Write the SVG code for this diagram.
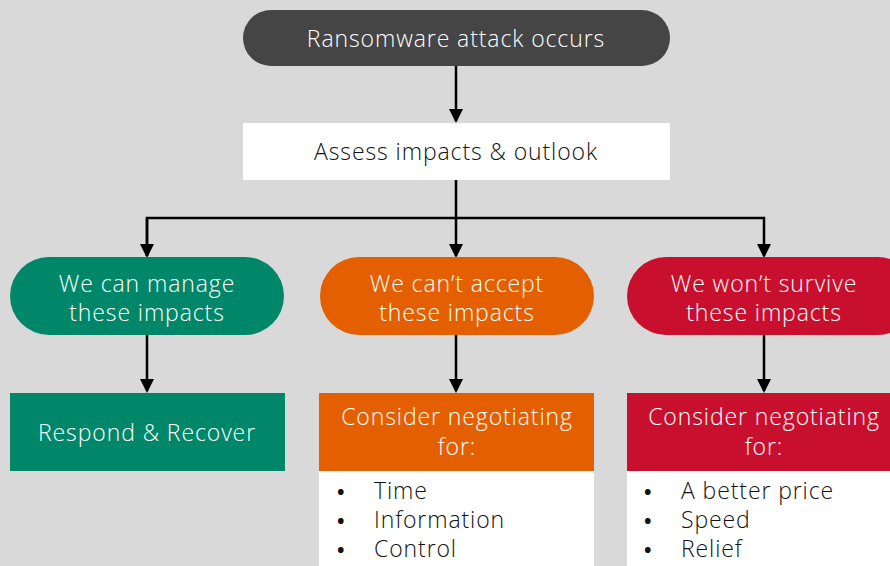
<svg xmlns="http://www.w3.org/2000/svg" width="890" height="566" viewBox="0 0 890 566">
<defs>
<marker id="ah" markerWidth="14" markerHeight="14" refX="12" refY="7" orient="auto" markerUnits="userSpaceOnUse">
<path d="M0,0 L14,7 L0,14 Z" fill="#000"/>
</marker>
<style>
text{font-family:"Open Sans","Liberation Sans",sans-serif;font-size:23px;font-weight:300;letter-spacing:0.9px}
.w{fill:#fff;text-anchor:middle}
.k{fill:#111}
.b{fill:#111;font-weight:700;font-size:20px}
.c{fill:#111;text-anchor:middle}
.edge{stroke:#000;stroke-width:2.5;fill:none}
</style>
</defs>
<rect width="890" height="566" fill="#d9d9d9"/>
<g id="connectors">
<path class="edge" d="M456,66 V121" marker-end="url(#ah)"/>
<path class="edge" d="M456,180 V256" marker-end="url(#ah)"/>
<path class="edge" d="M147,256 V218 H764 V256" marker-end="url(#ah)"/>
<path class="edge" d="M147,218 V256" marker-end="url(#ah)"/>
<path class="edge" d="M147,335 V391" marker-end="url(#ah)"/>
<path class="edge" d="M456,335 V391" marker-end="url(#ah)"/>
<path class="edge" d="M764,335 V391" marker-end="url(#ah)"/>
</g>
<g id="start">
<rect x="243" y="10" width="427" height="56" rx="28" fill="#454545"/>
<text class="w" x="456" y="47">Ransomware attack occurs</text>
</g>
<g id="assess">
<rect x="243" y="123" width="427" height="57" fill="#fff"/>
<text class="c" x="456" y="160">Assess impacts &amp; outlook</text>
</g>
<g id="manage">
<rect x="10" y="257" width="274" height="78" rx="39" fill="#00876a"/>
<text class="w" x="147" y="292">We can manage</text>
<text class="w" x="147" y="321">these impacts</text>
</g>
<g id="accept">
<rect x="320" y="257" width="274" height="78" rx="39" fill="#e35f00"/>
<text class="w" x="457" y="292">We can’t accept</text>
<text class="w" x="457" y="321">these impacts</text>
</g>
<g id="survive">
<rect x="627" y="257" width="290" height="78" rx="39" fill="#c8102e"/>
<text class="w" x="764" y="292">We won’t survive</text>
<text class="w" x="764" y="321">these impacts</text>
</g>
<g id="recover">
<rect x="10" y="393" width="275" height="78" fill="#00876a"/>
<text class="w" x="147" y="441">Respond &amp; Recover</text>
</g>
<g id="negotiate1">
<rect x="319" y="393" width="275" height="78" fill="#e35f00"/>
<rect x="319" y="471" width="275" height="95" fill="#fff"/>
<text class="w" x="457" y="425">Consider negotiating</text>
<text class="w" x="457" y="455">for:</text>
<text class="b" x="337" y="499">•</text><text class="k" x="374" y="499">Time</text>
<text class="b" x="337" y="528">•</text><text class="k" x="374" y="528">Information</text>
<text class="b" x="337" y="557">•</text><text class="k" x="374" y="557">Control</text>
</g>
<g id="negotiate2">
<rect x="627" y="393" width="263" height="78" fill="#c8102e"/>
<rect x="627" y="471" width="263" height="95" fill="#fff"/>
<text class="w" x="764" y="425">Consider negotiating</text>
<text class="w" x="764" y="455">for:</text>
<text class="b" x="644" y="499">•</text><text class="k" x="681" y="499">A better price</text>
<text class="b" x="644" y="528">•</text><text class="k" x="681" y="528">Speed</text>
<text class="b" x="644" y="557">•</text><text class="k" x="681" y="557">Relief</text>
</g>
</svg>
